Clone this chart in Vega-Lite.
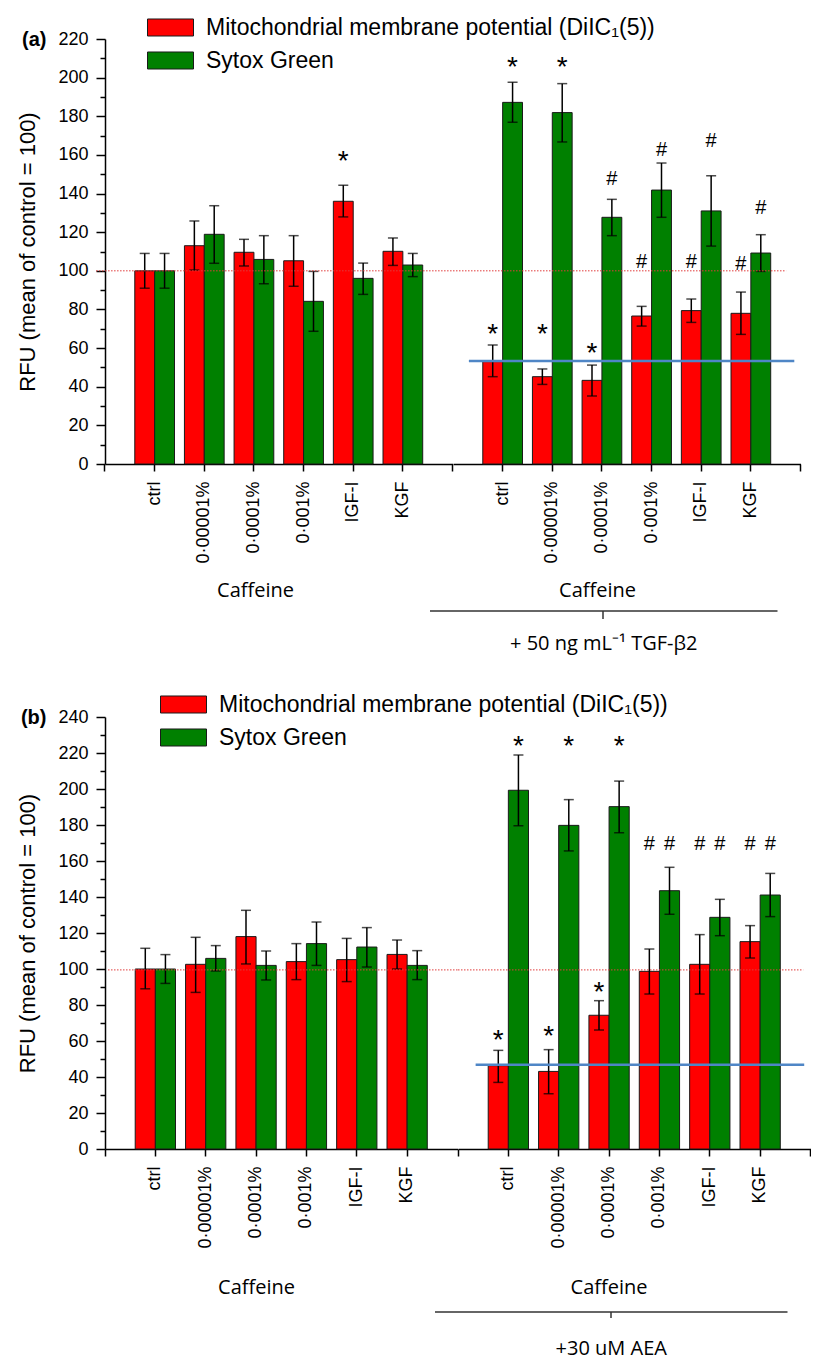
{
  "$schema": "https://vega.github.io/schema/vega-lite/v6.json",
  "padding": {"left": 16, "top": 16, "right": 0, "bottom": 0},
  "config": {
    "view": {"stroke": null},
    "font": "Liberation Sans",
    "axis": {"grid": false, "domainColor": "#000", "tickColor": "#000", "labelColor": "#000", "titleColor": "#000", "domainWidth": 1.5, "tickWidth": 1.5}
  },
  "datasets": {
    "a1": [
      {"cond": "ctrl", "s": "M", "mean": 100, "lo": 91, "hi": 109},
      {"cond": "ctrl", "s": "S", "mean": 100, "lo": 91, "hi": 109},
      {"cond": "0·00001%", "s": "M", "mean": 113, "lo": 100.4, "hi": 125.8},
      {"cond": "0·00001%", "s": "S", "mean": 118.9, "lo": 103.9, "hi": 133.7},
      {"cond": "0·0001%", "s": "M", "mean": 109.6, "lo": 102.5, "hi": 116.3},
      {"cond": "0·0001%", "s": "S", "mean": 105.9, "lo": 93.3, "hi": 118.2},
      {"cond": "0·001%", "s": "M", "mean": 105.2, "lo": 92, "hi": 118.2},
      {"cond": "0·001%", "s": "S", "mean": 84.2, "lo": 68.7, "hi": 99.7},
      {"cond": "IGF-I", "s": "M", "mean": 136, "lo": 127.9, "hi": 144.3, "sig": "*", "sigY": 156.3},
      {"cond": "IGF-I", "s": "S", "mean": 96.1, "lo": 87.8, "hi": 104},
      {"cond": "KGF", "s": "M", "mean": 110.1, "lo": 102.8, "hi": 117},
      {"cond": "KGF", "s": "S", "mean": 103, "lo": 97, "hi": 109}
    ],
    "a2": [
      {"cond": "ctrl", "s": "M", "mean": 53, "lo": 45.2, "hi": 61.6, "sig": "*", "sigY": 67},
      {"cond": "ctrl", "s": "S", "mean": 187.2, "lo": 176.9, "hi": 197.6, "sig": "*", "sigY": 204.8},
      {"cond": "0·00001%", "s": "M", "mean": 45.2, "lo": 41.2, "hi": 49.2, "sig": "*", "sigY": 67},
      {"cond": "0·00001%", "s": "S", "mean": 181.9, "lo": 166.7, "hi": 196.9, "sig": "*", "sigY": 204.8},
      {"cond": "0·0001%", "s": "M", "mean": 43.3, "lo": 35.2, "hi": 51.2, "sig": "*", "sigY": 56.8},
      {"cond": "0·0001%", "s": "S", "mean": 127.7, "lo": 118.2, "hi": 137, "sig": "#", "sigY": 147.5},
      {"cond": "0·001%", "s": "M", "mean": 76.6, "lo": 71.4, "hi": 81.6, "sig": "#", "sigY": 104.7},
      {"cond": "0·001%", "s": "S", "mean": 141.8, "lo": 127.7, "hi": 155.8, "sig": "#", "sigY": 162.5},
      {"cond": "IGF-I", "s": "M", "mean": 79.4, "lo": 73.3, "hi": 85.4, "sig": "#", "sigY": 104.7},
      {"cond": "IGF-I", "s": "S", "mean": 131, "lo": 112.8, "hi": 149.2, "sig": "#", "sigY": 167.4},
      {"cond": "KGF", "s": "M", "mean": 78, "lo": 67.1, "hi": 89, "sig": "#", "sigY": 103.5},
      {"cond": "KGF", "s": "S", "mean": 109.2, "lo": 99.7, "hi": 118.7, "sig": "#", "sigY": 132.5}
    ],
    "b1": [
      {"cond": "ctrl", "s": "M", "mean": 100, "lo": 89, "hi": 111.5},
      {"cond": "ctrl", "s": "S", "mean": 100, "lo": 92, "hi": 108},
      {"cond": "0·00001%", "s": "M", "mean": 102.6, "lo": 87, "hi": 117.6},
      {"cond": "0·00001%", "s": "S", "mean": 105.9, "lo": 98.9, "hi": 113},
      {"cond": "0·0001%", "s": "M", "mean": 118, "lo": 102.8, "hi": 132.6},
      {"cond": "0·0001%", "s": "S", "mean": 102, "lo": 93.9, "hi": 110},
      {"cond": "0·001%", "s": "M", "mean": 104.1, "lo": 94.1, "hi": 114.1},
      {"cond": "0·001%", "s": "S", "mean": 114.1, "lo": 102, "hi": 126.1},
      {"cond": "IGF-I", "s": "M", "mean": 105.2, "lo": 93, "hi": 117},
      {"cond": "IGF-I", "s": "S", "mean": 112.2, "lo": 101.1, "hi": 123},
      {"cond": "KGF", "s": "M", "mean": 108.1, "lo": 100, "hi": 116.1},
      {"cond": "KGF", "s": "S", "mean": 102, "lo": 94.1, "hi": 110.2}
    ],
    "b2": [
      {"cond": "ctrl", "s": "M", "mean": 46.3, "lo": 37, "hi": 54.8, "sig": "*", "sigY": 60.2},
      {"cond": "ctrl", "s": "S", "mean": 199.3, "lo": 179.6, "hi": 218.9, "sig": "*", "sigY": 223.5},
      {"cond": "0·00001%", "s": "M", "mean": 43.1, "lo": 30.7, "hi": 55.2, "sig": "*", "sigY": 62},
      {"cond": "0·00001%", "s": "S", "mean": 179.8, "lo": 165.6, "hi": 194.1, "sig": "*", "sigY": 223.5},
      {"cond": "0·0001%", "s": "M", "mean": 74.3, "lo": 66.1, "hi": 82.4, "sig": "*", "sigY": 86.6},
      {"cond": "0·0001%", "s": "S", "mean": 190.2, "lo": 175.7, "hi": 204.4, "sig": "*", "sigY": 223.5},
      {"cond": "0·001%", "s": "M", "mean": 98.7, "lo": 86.1, "hi": 111.1, "sig": "#", "sigY": 169.6},
      {"cond": "0·001%", "s": "S", "mean": 143.5, "lo": 130.4, "hi": 156.5, "sig": "#", "sigY": 169.6},
      {"cond": "IGF-I", "s": "M", "mean": 102.6, "lo": 86.1, "hi": 119.1, "sig": "#", "sigY": 169.6},
      {"cond": "IGF-I", "s": "S", "mean": 128.7, "lo": 118.5, "hi": 138.7, "sig": "#", "sigY": 169.6},
      {"cond": "KGF", "s": "M", "mean": 115.2, "lo": 106.1, "hi": 124.1, "sig": "#", "sigY": 169.6},
      {"cond": "KGF", "s": "S", "mean": 141.1, "lo": 129.1, "hi": 153.1, "sig": "#", "sigY": 169.6}
    ]
  },
  "spacing": 16,
  "resolve": {"scale": {"color": "independent", "x": "independent", "y": "independent", "xOffset": "independent"}, "legend": {"color": "independent"}},
  "vconcat": [
    {
      "hconcat": [
        {
          "width": 347.5, "height": 425,
          "data": {"name": "a1"},
          "encoding": {"x": {"field": "cond", "type": "nominal", "scale": {"domain": ["ctrl", "0·00001%", "0·0001%", "0·001%", "IGF-I", "KGF"], "paddingInner": 0, "paddingOuter": 0.5}, "axis": null}},
          "resolve": {"axis": {"x": "independent", "y": "independent"}},
          "layer": [
            {
              "mark": {"type": "bar", "stroke": "#1a1a1a", "strokeWidth": 1},
              "encoding": {
                "x": {"field": "cond", "type": "nominal", "scale": {"domain": ["ctrl", "0·00001%", "0·0001%", "0·001%", "IGF-I", "KGF"], "paddingInner": 0, "paddingOuter": 0.5},
                  "axis": {"orient": "bottom", "labelAngle": -90, "labelFontSize": 18, "labelPadding": 10, "tickSize": 7, "labelLimit": 0, "title": "Caffeine", "titleFont": "Open Sans", "titleFontSize": 20, "titleFontWeight": "normal", "titlePadding": 17, "titleX": 150}},
                "xOffset": {"field": "s", "type": "nominal", "scale": {"domain": ["M", "S"], "paddingInner": 0, "paddingOuter": 0.25}},
                "y": {"field": "mean", "type": "quantitative", "scale": {"domain": [0, 220], "nice": false},
                  "axis": {"orient": "left", "values": [0, 20, 40, 60, 80, 100, 120, 140, 160, 180, 200, 220], "tickSize": 9, "labelPadding": 8, "labelFontSize": 18, "labelFlush": false, "labelOverlap": false, "title": "RFU (mean of control = 100)", "titleFontSize": 22, "titleFontWeight": "normal", "titlePadding": 18}},
                "color": {"field": "s", "type": "nominal", "scale": {"domain": ["M", "S"], "range": ["#ff0000", "#008000"]},
                  "legend": {"orient": "none", "legendX": 42, "legendY": -23, "title": null, "direction": "vertical", "symbolType": "M-1,-0.37H1V0.37H-1Z", "symbolSize": 2116, "symbolStrokeColor": "#1a1a1a", "symbolStrokeWidth": 1, "symbolOpacity": 1, "labelFontSize": 23, "labelColor": "#000", "labelOffset": 12, "labelLimit": 0, "rowPadding": 9, "clipHeight": 23, "padding": 0,
                    "labelExpr": "datum.label == 'M' ? 'Mitochondrial membrane potential (DiIC₁(5))' : 'Sytox Green'"}}
              }
            },
            {
              "mark": {"type": "rule", "color": "#000", "strokeWidth": 1.5},
              "encoding": {
                "xOffset": {"field": "s", "type": "nominal", "scale": {"domain": ["M", "S"], "paddingInner": 0, "paddingOuter": 0.25}},
                "y": {"field": "lo", "type": "quantitative", "axis": {"orient": "left", "values": [10, 30, 50, 70, 90, 110, 130, 150, 170, 190, 210], "labels": false, "domain": false, "tickSize": 5, "title": null}},
                "y2": {"field": "hi"}
              }
            },
            {
              "mark": {"type": "tick", "color": "#000", "thickness": 1.5, "size": 10},
              "encoding": {
                "x": {"field": "cond", "type": "nominal", "scale": {"domain": ["ctrl", "0·00001%", "0·0001%", "0·001%", "IGF-I", "KGF"], "paddingInner": 0, "paddingOuter": 0.5},
                  "axis": {"orient": "bottom", "values": ["ctrl"], "bandPosition": -0.5, "labels": false, "domain": false, "tickSize": 7, "title": null}},
                "xOffset": {"field": "s", "type": "nominal", "scale": {"domain": ["M", "S"], "paddingInner": 0, "paddingOuter": 0.25}},
                "y": {"field": "hi", "type": "quantitative", "axis": {"orient": "left", "values": [220], "labelExpr": "'(a)'", "ticks": false, "domain": false, "labelPadding": 59, "labelFontSize": 20, "labelFontWeight": "bold", "labelBaseline": "middle", "labelFlush": false, "title": null}}
              }
            },
            {
              "mark": {"type": "tick", "color": "#000", "thickness": 1.5, "size": 10},
              "encoding": {
                "xOffset": {"field": "s", "type": "nominal", "scale": {"domain": ["M", "S"], "paddingInner": 0, "paddingOuter": 0.25}},
                "y": {"field": "lo", "type": "quantitative", "axis": null}
              }
            },
            {
              "transform": [{"filter": "isValid(datum.sig)"}],
              "mark": {"type": "text", "baseline": "middle", "align": "center", "color": "#000"},
              "encoding": {
                "xOffset": {"field": "s", "type": "nominal", "scale": {"domain": ["M", "S"], "paddingInner": 0, "paddingOuter": 0.25}},
                "y": {"field": "sigY", "type": "quantitative", "axis": null},
                "text": {"field": "sig"},
                "size": {"condition": {"test": "datum.sig == '*'", "value": 28}, "value": 20}
              }
            },
            {
              "data": {"values": [{"ref": 100}]},
              "mark": {"type": "rule", "color": "#e03c3c", "strokeWidth": 1, "strokeDash": [1.5, 1.5]},
              "encoding": {
                "x": {"datum": "ctrl", "type": "nominal", "bandPosition": -0.68, "axis": null},
                "x2": {"datum": "KGF", "bandPosition": 1.5},
                "y": {"field": "ref", "type": "quantitative", "axis": null}
              }
            }
          ]
        },
        {
          "width": 347.5, "height": 425,
          "data": {"name": "a2"},
          "encoding": {"x": {"field": "cond", "type": "nominal", "scale": {"domain": ["ctrl", "0·00001%", "0·0001%", "0·001%", "IGF-I", "KGF"], "paddingInner": 0, "paddingOuter": 0.5}, "axis": null}},
          "resolve": {"axis": {"x": "independent", "y": "independent"}},
          "layer": [
            {
              "mark": {"type": "bar", "stroke": "#1a1a1a", "strokeWidth": 1},
              "encoding": {
                "x": {"field": "cond", "type": "nominal", "scale": {"domain": ["ctrl", "0·00001%", "0·0001%", "0·001%", "IGF-I", "KGF"], "paddingInner": 0, "paddingOuter": 0.5},
                  "axis": {"orient": "bottom", "labelAngle": -90, "labelFontSize": 18, "labelPadding": 10, "tickSize": 7, "labelLimit": 0, "title": "Caffeine", "titleFont": "Open Sans", "titleFontSize": 20, "titleFontWeight": "normal", "titlePadding": 17, "titleX": 144}},
                "xOffset": {"field": "s", "type": "nominal", "scale": {"domain": ["M", "S"], "paddingInner": 0, "paddingOuter": 0.25}},
                "y": {"field": "mean", "type": "quantitative", "scale": {"domain": [0, 220], "nice": false}, "axis": null},
                "color": {"field": "s", "type": "nominal", "scale": {"domain": ["M", "S"], "range": ["#ff0000", "#008000"]}, "legend": null}
              }
            },
            {
              "mark": {"type": "rule", "color": "#000", "strokeWidth": 1.5},
              "encoding": {
                "x": {"field": "cond", "type": "nominal", "scale": {"domain": ["ctrl", "0·00001%", "0·0001%", "0·001%", "IGF-I", "KGF"], "paddingInner": 0, "paddingOuter": 0.5},
                  "axis": {"orient": "bottom", "values": ["0·001%"], "bandPosition": 0, "labels": false, "tickSize": 8, "translate": -23, "offset": 170, "domainColor": "#333", "tickColor": "#333", "title": "+ 50 ng mL⁻¹ TGF-β2", "titleFont": "Open Sans", "titleFontSize": 20, "titleFontWeight": "normal", "titlePadding": 14}},
                "xOffset": {"field": "s", "type": "nominal", "scale": {"domain": ["M", "S"], "paddingInner": 0, "paddingOuter": 0.25}},
                "y": {"field": "lo", "type": "quantitative", "axis": null},
                "y2": {"field": "hi"}
              }
            },
            {
              "mark": {"type": "tick", "color": "#000", "thickness": 1.5, "size": 10},
              "encoding": {
                "x": {"field": "cond", "type": "nominal", "scale": {"domain": ["ctrl", "0·00001%", "0·0001%", "0·001%", "IGF-I", "KGF"], "paddingInner": 0, "paddingOuter": 0.5},
                  "axis": {"orient": "bottom", "values": ["ctrl"], "bandPosition": -0.5, "labels": false, "domain": false, "tickSize": 7, "title": null}},
                "xOffset": {"field": "s", "type": "nominal", "scale": {"domain": ["M", "S"], "paddingInner": 0, "paddingOuter": 0.25}},
                "y": {"field": "hi", "type": "quantitative", "axis": null}
              }
            },
            {
              "mark": {"type": "tick", "color": "#000", "thickness": 1.5, "size": 10},
              "encoding": {
                "x": {"field": "cond", "type": "nominal", "scale": {"domain": ["ctrl", "0·00001%", "0·0001%", "0·001%", "IGF-I", "KGF"], "paddingInner": 0, "paddingOuter": 0.5},
                  "axis": {"orient": "bottom", "values": ["KGF"], "bandPosition": 1.5, "labels": false, "domain": false, "tickSize": 7, "title": null}},
                "xOffset": {"field": "s", "type": "nominal", "scale": {"domain": ["M", "S"], "paddingInner": 0, "paddingOuter": 0.25}},
                "y": {"field": "lo", "type": "quantitative", "axis": null}
              }
            },
            {
              "transform": [{"filter": "isValid(datum.sig)"}],
              "mark": {"type": "text", "baseline": "middle", "align": "center", "color": "#000"},
              "encoding": {
                "xOffset": {"field": "s", "type": "nominal", "scale": {"domain": ["M", "S"], "paddingInner": 0, "paddingOuter": 0.25}},
                "y": {"field": "sigY", "type": "quantitative", "axis": null},
                "text": {"field": "sig"},
                "size": {"condition": {"test": "datum.sig == '*'", "value": 28}, "value": 20}
              }
            },
            {
              "data": {"values": [{"ref": 100}]},
              "mark": {"type": "rule", "color": "#e03c3c", "strokeWidth": 1, "strokeDash": [1.5, 1.5]},
              "encoding": {
                "x": {"datum": "ctrl", "type": "nominal", "bandPosition": -0.5, "axis": null},
                "x2": {"datum": "KGF", "bandPosition": 1.21},
                "y": {"field": "ref", "type": "quantitative", "axis": null}
              }
            },
            {
              "data": {"values": [{"ref": 53.3}]},
              "mark": {"type": "rule", "color": "#4f86c6", "strokeWidth": 2.5},
              "encoding": {
                "x": {"datum": "ctrl", "type": "nominal", "bandPosition": -0.18, "axis": null},
                "x2": {"datum": "KGF", "bandPosition": 1.375},
                "y": {"field": "ref", "type": "quantitative", "axis": null}
              }
            }
          ]
        }
      ],
      "spacing": 0,
      "bounds": "flush",
      "resolve": {"scale": {"color": "independent", "x": "independent", "y": "independent", "xOffset": "independent"}, "legend": {"color": "independent"}}
    },
    {
      "hconcat": [
        {
          "width": 352.5, "height": 432,
          "data": {"name": "b1"},
          "encoding": {"x": {"field": "cond", "type": "nominal", "scale": {"domain": ["ctrl", "0·00001%", "0·0001%", "0·001%", "IGF-I", "KGF"], "paddingInner": 0, "paddingOuter": 0.5}, "axis": null}},
          "resolve": {"axis": {"x": "independent", "y": "independent"}},
          "layer": [
            {
              "mark": {"type": "bar", "stroke": "#1a1a1a", "strokeWidth": 1},
              "encoding": {
                "x": {"field": "cond", "type": "nominal", "scale": {"domain": ["ctrl", "0·00001%", "0·0001%", "0·001%", "IGF-I", "KGF"], "paddingInner": 0, "paddingOuter": 0.5},
                  "axis": {"orient": "bottom", "labelAngle": -90, "labelFontSize": 18, "labelPadding": 10, "tickSize": 7, "labelLimit": 0, "title": "Caffeine", "titleFont": "Open Sans", "titleFontSize": 20, "titleFontWeight": "normal", "titlePadding": 29, "titleX": 151}},
                "xOffset": {"field": "s", "type": "nominal", "scale": {"domain": ["M", "S"], "paddingInner": 0, "paddingOuter": 0.25}},
                "y": {"field": "mean", "type": "quantitative", "scale": {"domain": [0, 240], "nice": false},
                  "axis": {"orient": "left", "values": [0, 20, 40, 60, 80, 100, 120, 140, 160, 180, 200, 220, 240], "tickSize": 9, "labelPadding": 8, "labelFontSize": 18, "labelFlush": false, "labelOverlap": false, "title": "RFU (mean of control = 100)", "titleFontSize": 22, "titleFontWeight": "normal", "titlePadding": 18}},
                "color": {"field": "s", "type": "nominal", "scale": {"domain": ["M", "S"], "range": ["#ff0000", "#008000"]},
                  "legend": {"orient": "none", "legendX": 55, "legendY": -24, "title": null, "direction": "vertical", "symbolType": "M-1,-0.37H1V0.37H-1Z", "symbolSize": 2116, "symbolStrokeColor": "#1a1a1a", "symbolStrokeWidth": 1, "symbolOpacity": 1, "labelFontSize": 23, "labelColor": "#000", "labelOffset": 12, "labelLimit": 0, "rowPadding": 9, "clipHeight": 23, "padding": 0,
                    "labelExpr": "datum.label == 'M' ? 'Mitochondrial membrane potential (DiIC₁(5))' : 'Sytox Green'"}}
              }
            },
            {
              "mark": {"type": "rule", "color": "#000", "strokeWidth": 1.5},
              "encoding": {
                "xOffset": {"field": "s", "type": "nominal", "scale": {"domain": ["M", "S"], "paddingInner": 0, "paddingOuter": 0.25}},
                "y": {"field": "lo", "type": "quantitative", "axis": {"orient": "left", "values": [10, 30, 50, 70, 90, 110, 130, 150, 170, 190, 210, 230], "labels": false, "domain": false, "tickSize": 5, "title": null}},
                "y2": {"field": "hi"}
              }
            },
            {
              "mark": {"type": "tick", "color": "#000", "thickness": 1.5, "size": 10},
              "encoding": {
                "x": {"field": "cond", "type": "nominal", "scale": {"domain": ["ctrl", "0·00001%", "0·0001%", "0·001%", "IGF-I", "KGF"], "paddingInner": 0, "paddingOuter": 0.5},
                  "axis": {"orient": "bottom", "values": ["ctrl"], "bandPosition": -0.5, "labels": false, "domain": false, "tickSize": 7, "title": null}},
                "xOffset": {"field": "s", "type": "nominal", "scale": {"domain": ["M", "S"], "paddingInner": 0, "paddingOuter": 0.25}},
                "y": {"field": "hi", "type": "quantitative", "axis": {"orient": "left", "values": [240], "labelExpr": "'(b)'", "ticks": false, "domain": false, "labelPadding": 59, "labelFontSize": 20, "labelFontWeight": "bold", "labelBaseline": "middle", "labelFlush": false, "title": null}}
              }
            },
            {
              "mark": {"type": "tick", "color": "#000", "thickness": 1.5, "size": 10},
              "encoding": {
                "xOffset": {"field": "s", "type": "nominal", "scale": {"domain": ["M", "S"], "paddingInner": 0, "paddingOuter": 0.25}},
                "y": {"field": "lo", "type": "quantitative", "axis": null}
              }
            },
            {
              "data": {"values": [{"ref": 99.5}]},
              "mark": {"type": "rule", "color": "#e03c3c", "strokeWidth": 1, "strokeDash": [1.5, 1.5]},
              "encoding": {
                "x": {"datum": "ctrl", "type": "nominal", "bandPosition": -0.44, "axis": null},
                "x2": {"datum": "KGF", "bandPosition": 1.5},
                "y": {"field": "ref", "type": "quantitative", "axis": null}
              }
            }
          ]
        },
        {
          "width": 352.5, "height": 432,
          "data": {"name": "b2"},
          "encoding": {"x": {"field": "cond", "type": "nominal", "scale": {"domain": ["ctrl", "0·00001%", "0·0001%", "0·001%", "IGF-I", "KGF"], "paddingInner": 0, "paddingOuter": 0.5}, "axis": null}},
          "resolve": {"axis": {"x": "independent", "y": "independent"}},
          "layer": [
            {
              "mark": {"type": "bar", "stroke": "#1a1a1a", "strokeWidth": 1},
              "encoding": {
                "x": {"field": "cond", "type": "nominal", "scale": {"domain": ["ctrl", "0·00001%", "0·0001%", "0·001%", "IGF-I", "KGF"], "paddingInner": 0, "paddingOuter": 0.5},
                  "axis": {"orient": "bottom", "labelAngle": -90, "labelFontSize": 18, "labelPadding": 10, "tickSize": 7, "labelLimit": 0, "title": "Caffeine", "titleFont": "Open Sans", "titleFontSize": 20, "titleFontWeight": "normal", "titlePadding": 29, "titleX": 150.5}},
                "xOffset": {"field": "s", "type": "nominal", "scale": {"domain": ["M", "S"], "paddingInner": 0, "paddingOuter": 0.25}},
                "y": {"field": "mean", "type": "quantitative", "scale": {"domain": [0, 240], "nice": false}, "axis": null},
                "color": {"field": "s", "type": "nominal", "scale": {"domain": ["M", "S"], "range": ["#ff0000", "#008000"]}, "legend": null}
              }
            },
            {
              "mark": {"type": "rule", "color": "#000", "strokeWidth": 1.5},
              "encoding": {
                "x": {"field": "cond", "type": "nominal", "scale": {"domain": ["ctrl", "0·00001%", "0·0001%", "0·001%", "IGF-I", "KGF"], "paddingInner": 0, "paddingOuter": 0.5},
                  "axis": {"orient": "bottom", "values": ["0·001%"], "bandPosition": 0, "labels": false, "tickSize": 6, "translate": -23, "offset": 186, "domainColor": "#333", "tickColor": "#333", "title": "+30 uM AEA", "titleFont": "Open Sans", "titleFontSize": 20, "titleFontWeight": "normal", "titlePadding": 20}},
                "xOffset": {"field": "s", "type": "nominal", "scale": {"domain": ["M", "S"], "paddingInner": 0, "paddingOuter": 0.25}},
                "y": {"field": "lo", "type": "quantitative", "axis": null},
                "y2": {"field": "hi"}
              }
            },
            {
              "mark": {"type": "tick", "color": "#000", "thickness": 1.5, "size": 10},
              "encoding": {
                "x": {"field": "cond", "type": "nominal", "scale": {"domain": ["ctrl", "0·00001%", "0·0001%", "0·001%", "IGF-I", "KGF"], "paddingInner": 0, "paddingOuter": 0.5},
                  "axis": {"orient": "bottom", "values": ["ctrl"], "bandPosition": -0.5, "labels": false, "domain": false, "tickSize": 7, "title": null}},
                "xOffset": {"field": "s", "type": "nominal", "scale": {"domain": ["M", "S"], "paddingInner": 0, "paddingOuter": 0.25}},
                "y": {"field": "hi", "type": "quantitative", "axis": null}
              }
            },
            {
              "mark": {"type": "tick", "color": "#000", "thickness": 1.5, "size": 10},
              "encoding": {
                "x": {"field": "cond", "type": "nominal", "scale": {"domain": ["ctrl", "0·00001%", "0·0001%", "0·001%", "IGF-I", "KGF"], "paddingInner": 0, "paddingOuter": 0.5},
                  "axis": {"orient": "bottom", "values": ["KGF"], "bandPosition": 1.5, "labels": false, "domain": false, "tickSize": 7, "title": null}},
                "xOffset": {"field": "s", "type": "nominal", "scale": {"domain": ["M", "S"], "paddingInner": 0, "paddingOuter": 0.25}},
                "y": {"field": "lo", "type": "quantitative", "axis": null}
              }
            },
            {
              "transform": [{"filter": "isValid(datum.sig)"}],
              "mark": {"type": "text", "baseline": "middle", "align": "center", "color": "#000"},
              "encoding": {
                "xOffset": {"field": "s", "type": "nominal", "scale": {"domain": ["M", "S"], "paddingInner": 0, "paddingOuter": 0.25}},
                "y": {"field": "sigY", "type": "quantitative", "axis": null},
                "text": {"field": "sig"},
                "size": {"condition": {"test": "datum.sig == '*'", "value": 28}, "value": 20}
              }
            },
            {
              "data": {"values": [{"ref": 99.5}]},
              "mark": {"type": "rule", "color": "#e03c3c", "strokeWidth": 1, "strokeDash": [1.5, 1.5]},
              "encoding": {
                "x": {"datum": "ctrl", "type": "nominal", "bandPosition": -0.5, "axis": null},
                "x2": {"datum": "KGF", "bandPosition": 1.355},
                "y": {"field": "ref", "type": "quantitative", "axis": null}
              }
            },
            {
              "data": {"values": [{"ref": 46.8}]},
              "mark": {"type": "rule", "color": "#4f86c6", "strokeWidth": 2.5},
              "encoding": {
                "x": {"datum": "ctrl", "type": "nominal", "bandPosition": -0.15, "axis": null},
                "x2": {"datum": "KGF", "bandPosition": 1.375},
                "y": {"field": "ref", "type": "quantitative", "axis": null}
              }
            }
          ]
        }
      ],
      "spacing": 0,
      "bounds": "flush",
      "resolve": {"scale": {"color": "independent", "x": "independent", "y": "independent", "xOffset": "independent"}, "legend": {"color": "independent"}}
    }
  ]
}
